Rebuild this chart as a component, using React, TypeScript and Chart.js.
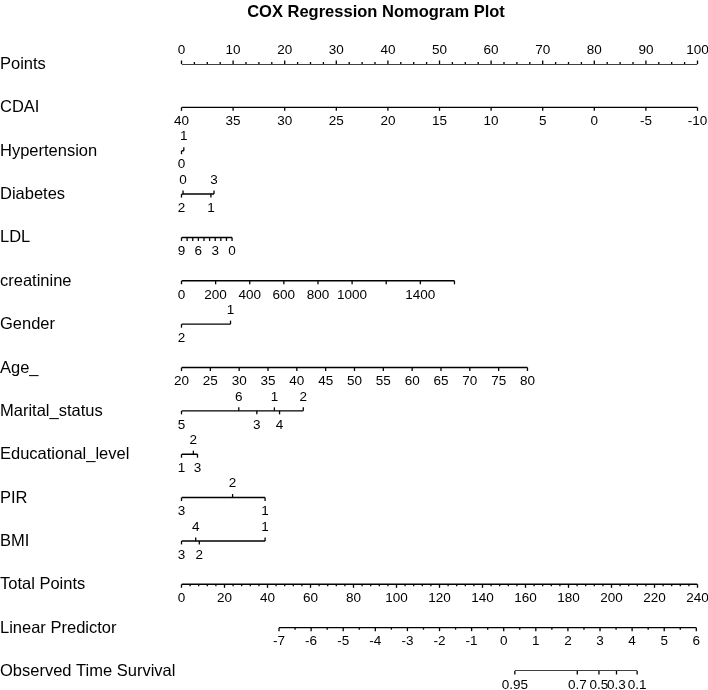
import React, { useEffect, useRef } from 'react';
import { Chart, registerables } from 'chart.js';
Chart.register(...registerables);

const FONT = '"Liberation Sans", Arial, sans-serif';

const rowNames = ['Points', 'CDAI', 'Hypertension', 'Diabetes', 'LDL', 'creatinine', 'Gender', 'Age_', 'Marital_status', 'Educational_level', 'PIR', 'BMI', 'Total Points', 'Linear Predictor', 'Observed Time Survival'];

// Points axis (0-100)
const pointsMajor = [0, 10, 20, 30, 40, 50, 60, 70, 80, 90, 100];
const pointsMinorStep = 2.5;

// Continuous predictors: tick values, labelled ticks, value range -> points range
const cdaiTicks = [40, 35, 30, 25, 20, 15, 10, 5, 0, -5, -10];
const cdaiRange = [40, -10];
const cdaiPtsRange = [0, 100];

const ldlTicks = [9, 8, 7, 6, 5, 4, 3, 2, 1, 0];
const ldlLabels = [9, 6, 3, 0];
const ldlRange = [9, 0];
const ldlPtsRange = [0, 9.8];

const creatinineTicks = [0, 200, 400, 600, 800, 1000, 1200, 1400, 1600];
const creatinineLabels = [0, 200, 400, 600, 800, 1000, 1400];
const creatinineRange = [0, 1600];
const creatininePtsRange = [0, 52.9];

const ageTicks = [20, 25, 30, 35, 40, 45, 50, 55, 60, 65, 70, 75, 80];
const ageRange = [20, 80];
const agePtsRange = [0, 67.05];

// Categorical predictors: levels, points, label side
const hypertensionLevels = ['0', '1'];
const hypertensionPts = [0, 0.45];
const hypertensionSide = ['down', 'up'];

const diabetesLevels = ['2', '0', '1', '3'];
const diabetesPts = [0, 0.3, 5.7, 6.3];
const diabetesSide = ['down', 'up', 'down', 'up'];

const genderLevels = ['2', '1'];
const genderPts = [0, 9.5];
const genderSide = ['down', 'up'];

const maritalLevels = ['5', '6', '3', '1', '4', '2'];
const maritalPts = [0, 11.1, 14.6, 18.0, 19.0, 23.6];
const maritalSide = ['down', 'up', 'down', 'up', 'down', 'up'];

const eduLevels = ['1', '2', '3'];
const eduPts = [0, 2.3, 3.1];
const eduSide = ['down', 'up', 'down'];

const pirLevels = ['3', '2', '1'];
const pirPts = [0, 9.9, 16.2];
const pirSide = ['down', 'up', 'down'];

const bmiLevels = ['3', '4', '2', '1'];
const bmiPts = [0, 2.75, 3.45, 16.2];
const bmiSide = ['down', 'up', 'down', 'up'];

// Total points axis
const totalMajor = [0, 20, 40, 60, 80, 100, 120, 140, 160, 180, 200, 220, 240];
const totalMinorStep = 4;
const totalRange = [0, 240];
const totalPtsRange = [0, 100];

// Linear predictor axis
const lpMajor = [-7, -6, -5, -4, -3, -2, -1, 0, 1, 2, 3, 4, 5, 6];
const lpMinorStep = 0.5;
const lpRange = [-7, 6];
const lpPtsRange = [18.9, 99.77];

// Observed time survival
const otsLabels = ['0.95', '0.7', '0.5', '0.3', '0.1'];
const otsPts = [64.6, 76.7, 80.9, 84.3, 88.3];

type Tick = { pts: number; label: string; side: 'up' | 'down'; major: boolean; show: boolean };

function lin(v: number, r: number[], p: number[]) {
  return p[0] + ((v - r[0]) * (p[1] - p[0])) / (r[1] - r[0]);
}

function fmt(v: number) {
  return String(v);
}

function continuous(ticks: number[], labels: number[] | null, r: number[], p: number[]): Tick[] {
  return ticks.map((v) => ({
    pts: lin(v, r, p),
    label: fmt(v),
    side: 'down',
    major: true,
    show: labels ? labels.includes(v) : true,
  }));
}

function withMinor(major: number[], step: number, r: number[], p: number[], side: 'up' | 'down'): Tick[] {
  const out: Tick[] = [];
  const lo = Math.min(r[0], r[1]);
  const hi = Math.max(r[0], r[1]);
  const n = Math.round((hi - lo) / step);
  for (let i = 0; i <= n; i++) {
    const v = lo + i * step;
    const isMajor = major.some((m) => Math.abs(m - v) < 1e-6);
    out.push({ pts: lin(v, r, p), label: fmt(Math.round(v * 100) / 100), side, major: isMajor, show: isMajor });
  }
  return out;
}

function categorical(levels: string[], pts: number[], sides: string[]): Tick[] {
  return levels.map((l, i) => ({ pts: pts[i], label: l, side: sides[i] as 'up' | 'down', major: true, show: true }));
}

function buildRows(): Tick[][] {
  return [
    withMinor(pointsMajor, pointsMinorStep, [0, 100], [0, 100], 'up'),
    continuous(cdaiTicks, null, cdaiRange, cdaiPtsRange),
    categorical(hypertensionLevels, hypertensionPts, hypertensionSide),
    categorical(diabetesLevels, diabetesPts, diabetesSide),
    continuous(ldlTicks, ldlLabels, ldlRange, ldlPtsRange),
    continuous(creatinineTicks, creatinineLabels, creatinineRange, creatininePtsRange),
    categorical(genderLevels, genderPts, genderSide),
    continuous(ageTicks, null, ageRange, agePtsRange),
    categorical(maritalLevels, maritalPts, maritalSide),
    categorical(eduLevels, eduPts, eduSide),
    categorical(pirLevels, pirPts, pirSide),
    categorical(bmiLevels, bmiPts, bmiSide),
    withMinor(totalMajor, totalMinorStep, totalRange, totalPtsRange, 'down'),
    withMinor(lpMajor, lpMinorStep, lpRange, lpPtsRange, 'down'),
    categorical(otsLabels, otsPts, ['down', 'down', 'down', 'down', 'down']),
  ];
}

export default function App() {
  const ref = useRef<HTMLCanvasElement | null>(null);

  useEffect(() => {
    document.body.style.margin = '0';
    const canvas = ref.current;
    if (!canvas) return;
    const rows = buildRows();

    const datasets = rows.map((ticks, i) => {
      const sorted = [...ticks].sort((a, b) => a.pts - b.pts);
      return {
        label: rowNames[i],
        data: sorted.map((t) => ({ x: t.pts, y: i })),
        showLine: true,
        borderColor: '#000',
        borderWidth: 1.4,
        pointRadius: 0,
        pointHoverRadius: 0,
        tension: 0,
      };
    });

    const nomoPlugin = {
      id: 'nomo',
      afterDatasetsDraw(chart: any) {
        const ctx = chart.ctx as CanvasRenderingContext2D;
        const xs = chart.scales.x;
        const ys = chart.scales.y;
        ctx.save();
        ctx.fillStyle = '#000';
        ctx.strokeStyle = '#000';
        // title
        ctx.font = `bold 16.5px ${FONT}`;
        ctx.textAlign = 'center';
        ctx.textBaseline = 'alphabetic';
        ctx.fillText('COX Regression Nomogram Plot', 376, 17);

        rows.forEach((ticks, i) => {
          const y = ys.getPixelForValue(i);
          ctx.font = `16.5px ${FONT}`;
          ctx.textAlign = 'left';
          ctx.textBaseline = 'middle';
          ctx.fillText(rowNames[i], 0, y + 0.5);

          ctx.lineWidth = 1.3;
          ctx.font = `13.5px ${FONT}`;
          ctx.textAlign = 'center';
          ticks.forEach((t) => {
            const x = xs.getPixelForValue(t.pts);
            const dir = t.side === 'up' ? -1 : 1;
            const len = t.major ? 3.5 : 2;
            ctx.beginPath();
            ctx.moveTo(x, y);
            ctx.lineTo(x, y + dir * len);
            ctx.stroke();
            if (t.show) {
              ctx.fillText(t.label, x, y + dir * 14);
            }
          });
        });
        ctx.restore();
      },
    };

    const chart = new Chart(canvas, {
      type: 'scatter',
      data: { datasets } as any,
      options: {
        animation: false,
        responsive: false,
        maintainAspectRatio: false,
        layout: { padding: { left: 181.5, right: 10.5, top: 64, bottom: 19 } },
        scales: {
          x: { type: 'linear', min: 0, max: 100, display: false },
          y: { type: 'linear', min: 0, max: 14, reverse: true, display: false },
        },
        plugins: {
          legend: { display: false },
          title: { display: false },
          tooltip: { enabled: false },
        },
      },
      plugins: [nomoPlugin],
    });
    return () => chart.destroy();
  }, []);

  return <canvas ref={ref} width={708} height={690} style={{ display: 'block', width: 708, height: 690 }} />;
}
